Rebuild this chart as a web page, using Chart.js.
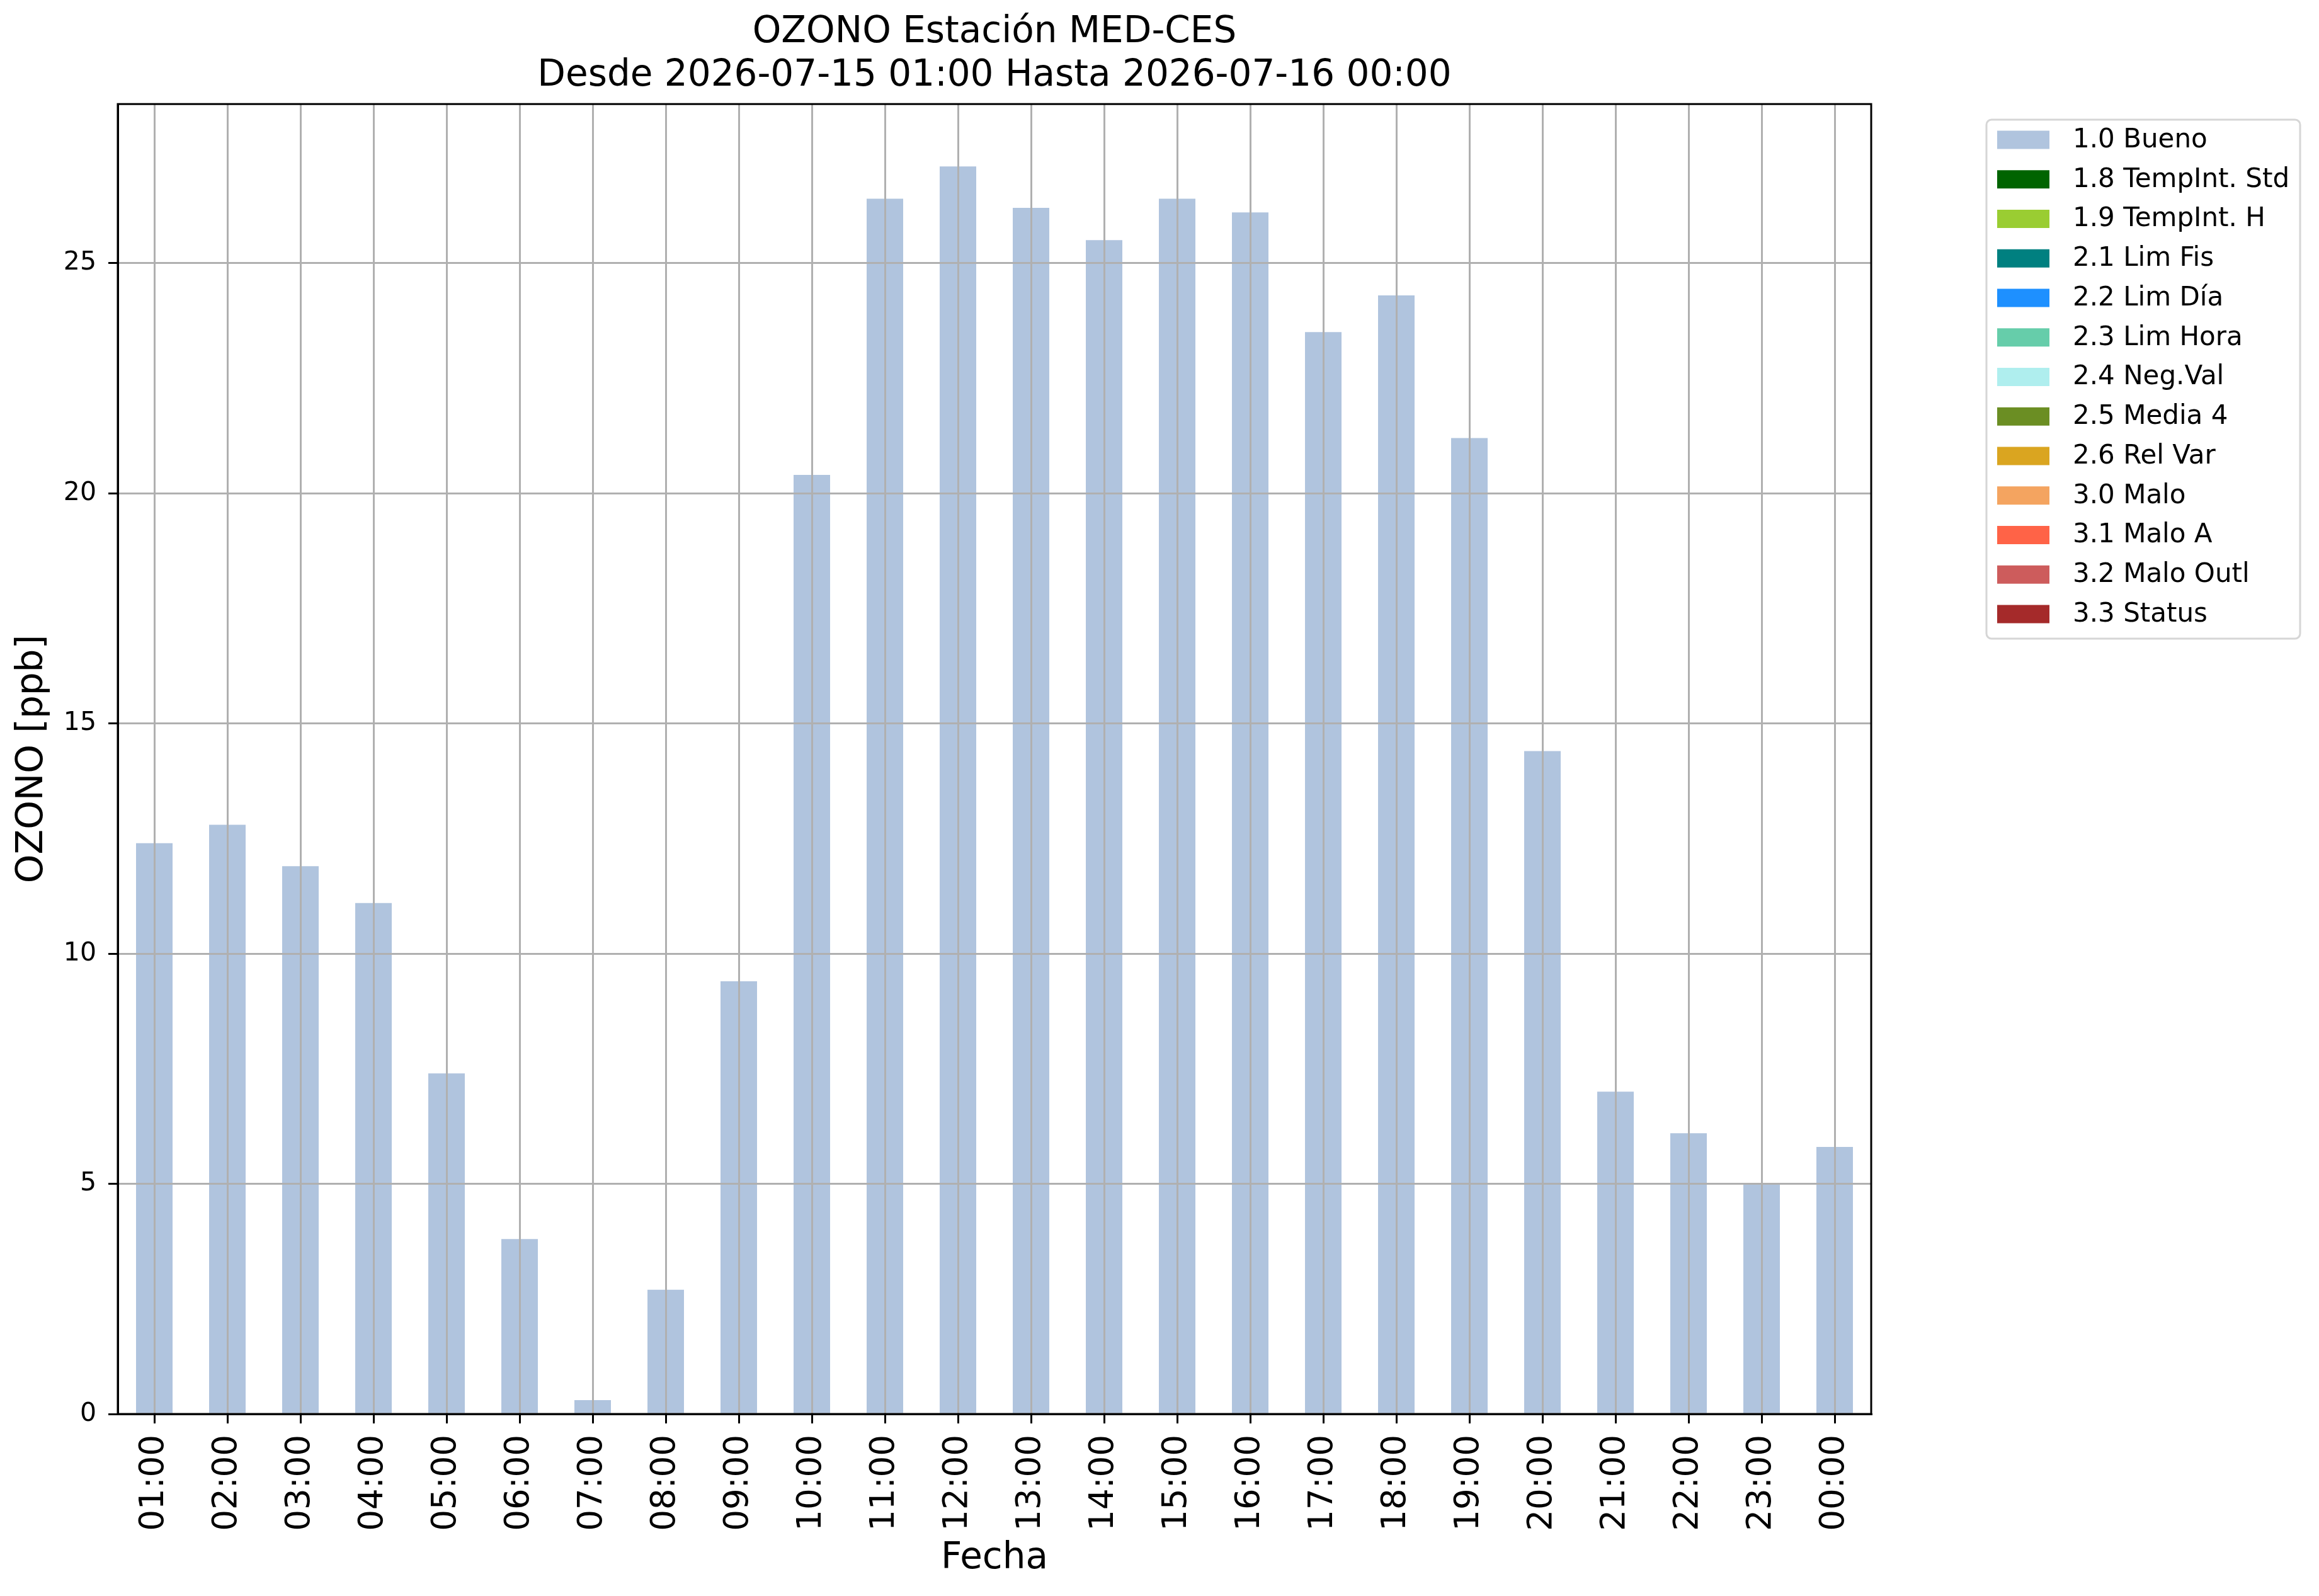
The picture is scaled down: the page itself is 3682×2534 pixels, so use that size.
<!DOCTYPE html>
<html>
<head>
<meta charset="utf-8">
<title>OZONO Estación MED-CES</title>
<script src="https://cdn.jsdelivr.net/npm/chart.js@4.4.1/dist/chart.umd.min.js"></script>
<style>
    html, body { margin: 0; padding: 0; background: #ffffff; }
    #ozonoChart { display: block; }
</style>
</head>
<body>
<canvas id="ozonoChart" width="3682" height="2534"></canvas>
<script>
/* ================= DATA ================= */

const hours = [
    "01:00", "02:00", "03:00", "04:00", "05:00", "06:00",
    "07:00", "08:00", "09:00", "10:00", "11:00", "12:00",
    "13:00", "14:00", "15:00", "16:00", "17:00", "18:00",
    "19:00", "20:00", "21:00", "22:00", "23:00", "00:00"
];

const ozonoBueno = [
    12.4, 12.8, 11.9, 11.1, 7.4, 3.8,
    0.3, 2.7, 9.4, 20.4, 26.4, 27.1,
    26.2, 25.5, 26.4, 26.1, 23.5, 24.3,
    21.2, 14.4, 7.0, 6.1, 5.0, 5.8
];

const flagLabels = [
    "1.0 Bueno", "1.8 TempInt. Std", "1.9 TempInt. H", "2.1 Lim Fis",
    "2.2 Lim Día", "2.3 Lim Hora", "2.4 Neg.Val", "2.5 Media 4",
    "2.6 Rel Var", "3.0 Malo", "3.1 Malo A", "3.2 Malo Outl", "3.3 Status"
];

const flagColors = [
    "#b0c4de", "#006400", "#9acd32", "#008080",
    "#1e90ff", "#66cdaa", "#afeeee", "#6b8e23",
    "#daa520", "#f4a460", "#ff6347", "#cd5c5c", "#a52a2a"
];

const titleLines = [
    "OZONO Estación MED-CES",
    "Desde 2026-07-15 01:00 Hasta 2026-07-16 00:00"
];

const yTickStep = 5;

/* ================= HELPERS ================= */

const FONT = "'DejaVu Sans', 'Liberation Sans', sans-serif";

// only the "Bueno" flag has values in this period
const datasets = flagLabels.map((label, i) => ({
    label: label,
    data: i === 0 ? ozonoBueno : [],
    backgroundColor: flagColors[i],
    borderWidth: 0,
    barPercentage: 0.5,
    categoryPercentage: 1.0
}));

// box round the plot (top and right spines)
const frame = {
    id: "frame",
    afterDraw(chart) {
        const {ctx, chartArea: a} = chart;
        ctx.save();
        ctx.strokeStyle = "#000000";
        ctx.lineWidth = 3;
        ctx.strokeRect(a.left, a.top, a.right - a.left, a.bottom - a.top);
        ctx.restore();
    }
};

// matplotlib-like legend outside the axes, upper right
const sideLegend = {
    id: "sideLegend",
    afterDraw(chart) {
        const ctx = chart.ctx;
        const x0 = 3154, y0 = 190, w = 498, h = 824;
        const rowY = 222, rowStep = 62.75;

        ctx.save();
        ctx.beginPath();
        ctx.roundRect(x0, y0, w, h, 8);
        ctx.fillStyle = "rgba(255,255,255,0.8)";
        ctx.fill();
        ctx.lineWidth = 3;
        ctx.strokeStyle = "#d6d6d6";
        ctx.stroke();

        ctx.font = "42px " + FONT;
        ctx.textBaseline = "middle";
        ctx.textAlign = "left";
        chart.data.datasets.forEach((ds, i) => {
            const y = rowY + i * rowStep;
            ctx.fillStyle = ds.backgroundColor;
            ctx.fillRect(3171, y - 14.5, 83, 29);
            ctx.fillStyle = "#000000";
            ctx.fillText(ds.label, 3291, y + 1);
        });
        ctx.restore();
    }
};

/* ================= OZONO CHART ================= */

new Chart(document.getElementById("ozonoChart"), {

    type: "bar",

    data: {
        labels: hours,
        datasets: datasets
    },

    plugins: [frame, sideLegend],

    options: {
        responsive: false,
        animation: false,
        devicePixelRatio: 1,

        layout: {
            padding: { top: 0, left: 0, right: 711, bottom: 0 }
        },

        plugins: {
            legend: { display: false },
            tooltip: { enabled: false },
            title: {
                display: true,
                fullSize: false,
                text: titleLines,
                color: "#000000",
                font: { family: FONT, size: 58, weight: "normal", lineHeight: 1.2 },
                padding: { top: 17, bottom: 9 }
            }
        },

        scales: {
            x: {
                stacked: true,
                offset: true,
                afterFit: (scale) => { scale.height = 289; },
                grid: {
                    offset: false,
                    color: "#b0b0b0",
                    lineWidth: 3,
                    tickColor: "#000000",
                    tickWidth: 3,
                    tickLength: 15,
                    z: 1
                },
                border: { color: "#000000", width: 3, z: 2 },
                ticks: {
                    color: "#000000",
                    font: { family: FONT, size: 53 },
                    minRotation: 90,
                    maxRotation: 90,
                    autoSkip: false,
                    padding: 18
                },
                title: {
                    display: true,
                    text: "Fecha",
                    color: "#000000",
                    font: { family: FONT, size: 58, lineHeight: 1.2 },
                    padding: { top: 0, bottom: 24 }
                }
            },

            y: {
                stacked: true,
                min: 0,
                max: Math.max(...ozonoBueno) * 1.05,
                afterFit: (scale) => { scale.width = 187; },
                grid: {
                    color: "#b0b0b0",
                    lineWidth: 3,
                    tickColor: "#000000",
                    tickWidth: 3,
                    tickLength: 15,
                    z: 1
                },
                border: { color: "#000000", width: 3, z: 2 },
                ticks: {
                    stepSize: yTickStep,
                    includeBounds: false,
                    color: "#000000",
                    font: { family: FONT, size: 41 },
                    padding: 19
                },
                title: {
                    display: true,
                    text: "OZONO [ppb]",
                    color: "#000000",
                    font: { family: FONT, size: 58, lineHeight: 1.2 },
                    padding: { top: 17, bottom: 0 }
                }
            }
        }
    }

});
</script>
</body>
</html>
